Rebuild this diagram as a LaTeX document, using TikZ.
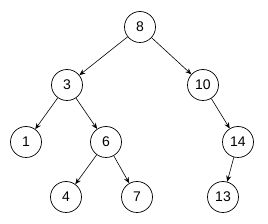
\documentclass[tikz,border=0pt]{standalone}
\usepackage{fontspec}
\setmainfont{Liberation Sans}
\usetikzlibrary{arrows.meta}
\tikzset{
    key/.style={draw,circle,minimum size=31pt,inner sep=0pt,line width=0.7pt,font=\fontsize{14}{16}\selectfont},
    edge/.style={-{Stealth[length=6pt,width=5pt]},line width=0.6pt}
}
\begin{document}
\begin{tikzpicture}[x=1pt,y=-1pt]
    \useasboundingbox (0,0) rectangle (268,224);
    \node[key] (n8) at (140,27) {8};
    \node[key] (n3) at (67,85) {3};
    \node[key] (n10) at (203,85) {10};
    \node[key] (n1) at (26,142) {1};
    \node[key] (n6) at (106,142) {6};
    \node[key] (n14) at (238,142) {14};
    \node[key] (n4) at (66,197) {4};
    \node[key] (n7) at (137,197) {7};
    \node[key] (n13) at (223,197) {13};
    \draw[edge] (n8) -- (n3);
    \draw[edge] (n8) -- (n10);
    \draw[edge] (n3) -- (n1);
    \draw[edge] (n3) -- (n6);
    \draw[edge] (n10) -- (n14);
    \draw[edge] (n6) -- (n4);
    \draw[edge] (n6) -- (n7);
    \draw[edge] (n14) -- (n13);
\end{tikzpicture}
\end{document}
